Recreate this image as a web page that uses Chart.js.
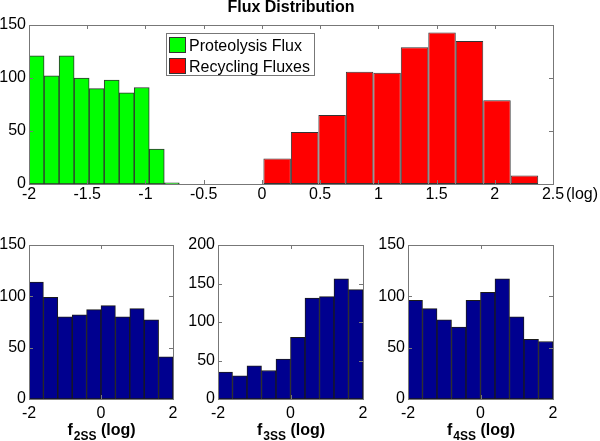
<!DOCTYPE html>
<html>
<head>
<meta charset="utf-8">
<script src="https://cdn.jsdelivr.net/npm/chart.js@4.4.0/dist/chart.umd.min.js"></script>
<style>
  body { margin: 0; background: #fff; }
  #wrap { position: relative; width: 600px; height: 441px; overflow: hidden; background: #fff; }
  canvas { position: absolute; }
  #legend { position: absolute; left: 166px; top: 33px; width: 147px; height: 41px; border: 1px solid #777;
    background: #fff; font: 16px "Liberation Sans", Arial, sans-serif; color: #000; }
  .item { position: absolute; left: 2px; height: 20px; line-height: 20px; white-space: nowrap; }
  .sw { display: inline-block; border: 1px solid #333; vertical-align: top; margin-top: 1px; margin-right: 3px; box-sizing: border-box; width: 17px; height: 16px; }
</style>
</head>
<body>
<div id="wrap">
  <canvas id="topChart" width="600" height="215" style="left:0;top:0"></canvas>
  <canvas id="f2Chart" width="191" height="216" style="left:0;top:225px"></canvas>
  <canvas id="f3Chart" width="192" height="216" style="left:189px;top:225px"></canvas>
  <canvas id="f4Chart" width="192" height="216" style="left:379px;top:225px"></canvas>
  <div id="legend"></div>
</div>
<script>
// top histogram: bin centres (log) and counts
var greenCenters = [-1.935, -1.806, -1.677, -1.548, -1.419, -1.290, -1.161, -1.032, -0.903, -0.774];
var greenCounts = [121, 102, 121, 100, 90, 98, 86, 91, 33, 1];
var greenBinWidth = 0.129;
var redCenters = [0.131, 0.367, 0.603, 0.839, 1.075, 1.311, 1.547, 1.783, 2.019, 2.255];
var redCounts = [24, 49, 65, 106, 105, 129, 143, 135, 79, 8];
var redBinWidth = 0.236;
var seriesLabels = ["Proteolysis Flux", "Recycling Fluxes"];

// bottom histograms
var smallCenters = [-1.8, -1.4, -1.0, -0.6, -0.2, 0.2, 0.6, 1.0, 1.4, 1.8];
var f2Counts = [114, 99, 80, 82, 87, 91, 80, 88, 77, 41];
var f3Counts = [35, 30, 43, 37, 52, 80, 131, 133, 156, 142];
var f4Counts = [96, 88, 77, 70, 96, 104, 117, 80, 58, 56];
var smallYMax = [150, 200, 150];
var smallTitles = [["f", "2SS", " (log)"], ["f", "3SS", " (log)"], ["f", "4SS", " (log)"]];

Chart.defaults.font.family = '"Liberation Sans", Arial, sans-serif';
Chart.defaults.font.size = 16;
Chart.defaults.color = '#000';
Chart.defaults.animation = false;

function toPoints(xs, ys) {
    return xs.map(function (x, i) { return { x: x, y: ys[i] }; });
}

function plainTick(value) {
    return String(Math.round(value * 100) / 100);
}

// matlab style box with inner ticks
var boxPlugin = {
    id: 'box',
    afterDatasetsDraw: function (chart) {
        var ctx = chart.ctx, a = chart.chartArea;
        var xs = chart.scales.x, ys = chart.scales.y;
        ctx.save();
        ctx.strokeStyle = '#777';
        ctx.lineWidth = 1;
        ctx.beginPath();
        xs.ticks.forEach(function (t) {
            var px = Math.round(xs.getPixelForValue(t.value)) + 0.5;
            if (px - a.left < 2 || a.right - px < 2) return;
            ctx.moveTo(px, a.bottom); ctx.lineTo(px, a.bottom - 4);
            ctx.moveTo(px, a.top); ctx.lineTo(px, a.top + 4);
        });
        ys.ticks.forEach(function (t) {
            var py = Math.round(ys.getPixelForValue(t.value)) + 0.5;
            if (py - a.top < 2 || a.bottom - py < 2) return;
            ctx.moveTo(a.left, py); ctx.lineTo(a.left + 4, py);
            ctx.moveTo(a.right, py); ctx.lineTo(a.right - 4, py);
        });
        ctx.stroke();
        ctx.strokeRect(Math.round(a.left) + 0.5, Math.round(a.top) + 0.5,
            Math.round(a.right - a.left), Math.round(a.bottom - a.top));
        ctx.restore();
    }
};

// "(log)" after last tick of the top chart
var logLabelPlugin = {
    id: 'logLabel',
    afterDraw: function (chart) {
        var a = chart.chartArea, ctx = chart.ctx;
        ctx.save();
        ctx.font = '16px "Liberation Sans", Arial, sans-serif';
        ctx.fillStyle = '#000';
        ctx.textAlign = 'left';
        ctx.textBaseline = 'alphabetic';
        ctx.fillText('(log)', a.right + 13, a.bottom + 15);
        ctx.restore();
    }
};

// x title with subscript for the small charts
var subTitlePlugin = {
    id: 'subTitle',
    afterDraw: function (chart, args, opts) {
        var a = chart.chartArea, ctx = chart.ctx;
        var big = 'bold 16px "Liberation Sans", Arial, sans-serif';
        var small = 'bold 12px "Liberation Sans", Arial, sans-serif';
        ctx.save();
        ctx.fillStyle = '#000';
        ctx.textBaseline = 'alphabetic';
        ctx.textAlign = 'left';
        ctx.font = big;
        var w1 = ctx.measureText(opts.parts[0]).width;
        var w3 = ctx.measureText(opts.parts[2]).width;
        ctx.font = small;
        var w2 = ctx.measureText(opts.parts[1]).width;
        var x = (a.left + a.right) / 2 - (w1 + w2 + w3) / 2;
        var base = a.bottom + 36;
        ctx.font = big;
        ctx.fillText(opts.parts[0], x, base);
        ctx.font = small;
        ctx.fillText(opts.parts[1], x + w1 + 1, base + 5);
        ctx.font = big;
        ctx.fillText(opts.parts[2], x + w1 + w2 + 1, base);
        ctx.restore();
    }
};

new Chart(document.getElementById('topChart'), {
    type: 'bar',
    data: {
        datasets: [{
            label: seriesLabels[0],
            data: toPoints(greenCenters, greenCounts),
            backgroundColor: '#00ff00',
            borderColor: '#333',
            borderWidth: 1,
            borderSkipped: false,
            grouped: false,
            barPercentage: 1,
            categoryPercentage: 1
        }, {
            label: seriesLabels[1],
            data: toPoints(redCenters, redCounts),
            backgroundColor: '#ff0000',
            borderColor: '#333',
            borderWidth: 1,
            borderSkipped: false,
            grouped: false,
            barPercentage: redBinWidth / greenBinWidth,
            categoryPercentage: 1
        }]
    },
    options: {
        responsive: false,
        devicePixelRatio: 1,
        layout: { padding: { left: 0, right: 47, top: 0, bottom: 0 } },
        plugins: {
            legend: { display: false },
            tooltip: { enabled: false },
            title: {
                display: true,
                text: 'Flux Distribution',
                fullSize: false,
                font: { size: 16, weight: 'bold', lineHeight: 1 },
                padding: { top: 0, bottom: 9 },
                color: '#000'
            }
        },
        scales: {
            x: {
                type: 'linear', min: -2, max: 2.5, offset: false,
                grid: { display: false, drawTicks: false },
                border: { display: false },
                ticks: { stepSize: 0.5, padding: 1, maxRotation: 0, autoSkip: false, callback: plainTick },
                afterFit: function (s) { s.height = 31; }
            },
            y: {
                min: 0, max: 150,
                grid: { display: false, drawTicks: false },
                border: { display: false },
                ticks: { stepSize: 50, padding: 3 },
                afterFit: function (s) { s.width = 29; }
            }
        }
    },
    plugins: [boxPlugin, logLabelPlugin]
});

// legend box built from the series
var legendColors = ['#00ff00', '#ff0000'];
var lg = document.getElementById('legend');
seriesLabels.forEach(function (name, i) {
    var d = document.createElement('div');
    d.className = 'item';
    d.style.top = (2 + i * 20.5) + 'px';
    d.innerHTML = '<span class="sw" style="background:' + legendColors[i] + '"></span>' + name;
    lg.appendChild(d);
});

function smallChart(id, counts, yMax, parts) {
    new Chart(document.getElementById(id), {
        type: 'bar',
        data: {
            datasets: [{
                data: toPoints(smallCenters, counts),
                backgroundColor: '#00008f',
                borderColor: '#1a1a1a',
                borderWidth: 1,
                borderSkipped: false,
                barPercentage: 1,
                categoryPercentage: 1
            }]
        },
        options: {
            responsive: false,
            devicePixelRatio: 1,
            layout: { padding: { left: 0, right: 18, top: 20, bottom: 0 } },
            plugins: {
                legend: { display: false },
                tooltip: { enabled: false },
                subTitle: { parts: parts }
            },
            scales: {
                x: {
                    type: 'linear', min: -2, max: 2, offset: false,
                    grid: { display: false, drawTicks: false },
                    border: { display: false },
                    ticks: { stepSize: 2, padding: 5, maxRotation: 0, autoSkip: false, callback: plainTick },
                    afterFit: function (s) { s.height = 42; }
                },
                y: {
                    min: 0, max: yMax,
                    grid: { display: false, drawTicks: false },
                    border: { display: false },
                    ticks: { stepSize: 50, padding: 3 },
                    afterFit: function (s) { s.width = 29; }
                }
            }
        },
        plugins: [boxPlugin, subTitlePlugin]
    });
}

smallChart('f2Chart', f2Counts, smallYMax[0], smallTitles[0]);
smallChart('f3Chart', f3Counts, smallYMax[1], smallTitles[1]);
smallChart('f4Chart', f4Counts, smallYMax[2], smallTitles[2]);
</script>
</body>
</html>
